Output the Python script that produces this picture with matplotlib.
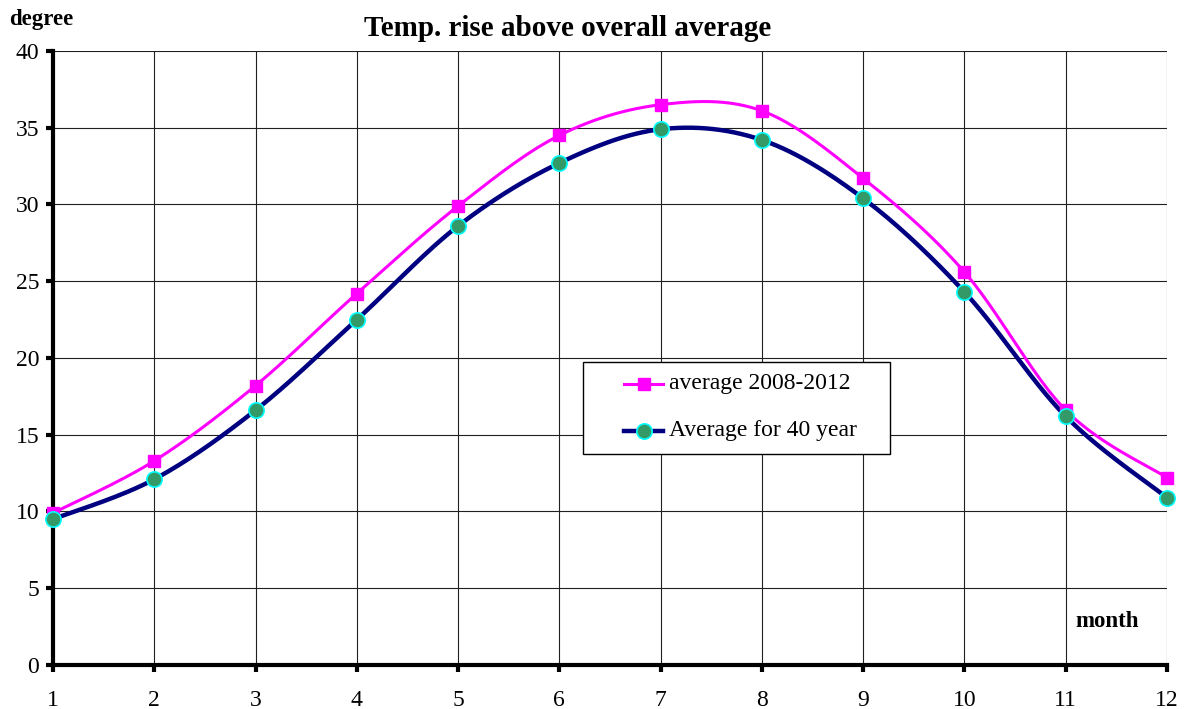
import numpy as np
import matplotlib
matplotlib.use("Agg")
import matplotlib.pyplot as plt
from matplotlib.patches import Rectangle

months = [1, 2, 3, 4, 5, 6, 7, 8, 9, 10, 11, 12]
avg_2008_2012 = [9.9, 13.3, 18.2, 24.2, 29.9, 34.5, 36.5, 36.1, 31.7, 25.6, 16.6, 12.2]
avg_40_year = [9.5, 12.1, 16.6, 22.5, 28.6, 32.7, 34.9, 34.2, 30.4, 24.3, 16.2, 10.9]
yticks = [0, 5, 10, 15, 20, 25, 30, 35, 40]
series_names = ['average 2008-2012', 'Average for 40 year']


def smooth(x, y, steps=30):
    # cubic bezier through each point, control points from neighbouring slopes
    x = np.asarray(x, float)
    y = np.asarray(y, float)
    px = np.concatenate([[x[0]], x, [x[-1]]])
    py = np.concatenate([[y[0]], y, [y[-1]]])
    xs, ys = [], []
    t = np.linspace(0, 1, steps)
    for i in range(1, len(px) - 2):
        p0 = np.array([px[i], py[i]])
        p3 = np.array([px[i + 1], py[i + 1]])
        c1 = p0 + (np.array([px[i + 1], py[i + 1]]) - np.array([px[i - 1], py[i - 1]])) / 6
        c2 = p3 - (np.array([px[i + 2], py[i + 2]]) - np.array([px[i], py[i]])) / 6
        b = ((1 - t) ** 3)[:, None] * p0 + (3 * (1 - t) ** 2 * t)[:, None] * c1 \
            + (3 * (1 - t) * t ** 2)[:, None] * c2 + (t ** 3)[:, None] * p3
        xs.extend(b[:, 0])
        ys.extend(b[:, 1])
    return xs, ys


plt.rcParams['font.family'] = ['Liberation Serif', 'DejaVu Serif']

fig = plt.figure(figsize=(11.84, 7.09), dpi=100)
ax = fig.add_axes([0.0448, 0.0621, 0.9408, 0.866])

ax.set_xlim(1, 12)
ax.set_ylim(0, 40)
ax.set_xticks(months)
ax.set_yticks(yticks)
ax.grid(True, color='#202020', linewidth=0.8)
ax.set_axisbelow(True)

pink = '#ff00ff'
navy = '#000080'
pink_style = dict(color=pink, linewidth=2.2)
pink_marker = dict(marker='s', color=pink, markersize=9)
navy_style = dict(color=navy, linewidth=3.2)
navy_marker = dict(marker='o', markerfacecolor='#339966', markeredgecolor='#00ffff',
                   markeredgewidth=1.2, markersize=11)

sx, sy = smooth(months, avg_2008_2012)
ax.plot(sx, sy, zorder=3, clip_on=False, **pink_style)
ax.plot(months, avg_2008_2012, linestyle='none', zorder=4, clip_on=False, **pink_marker)

sx, sy = smooth(months, avg_40_year)
ax.plot(sx, sy, zorder=3, clip_on=False, **navy_style)
ax.plot(months, avg_40_year, linestyle='none', zorder=4, clip_on=False, **navy_marker)

# hand-placed legend box (axes fractions)
tr = ax.transAxes
ax.add_patch(Rectangle((0.4758, 0.3436), 0.2755, 0.1499, transform=tr, facecolor='white',
                       edgecolor='black', linewidth=1.0, zorder=5))
for row_y, style, marker, name in [(0.4577, pink_style, pink_marker, series_names[0]),
                                   (0.3811, navy_style, navy_marker, series_names[1])]:
    ax.plot([0.5126, 0.5476], [row_y, row_y], transform=tr, zorder=6, **style)
    ax.plot([0.5301], [row_y], transform=tr, linestyle='none', zorder=7, **marker)
    ax.text(0.5530, row_y, name, transform=tr, ha='left', va='center', fontsize=17, zorder=7)

for side in ['top', 'right']:
    ax.spines[side].set_visible(False)
ax.spines['left'].set_linewidth(3)
ax.spines['bottom'].set_linewidth(3)
ax.tick_params(axis='both', direction='out', length=5, width=3, labelsize=17)
ax.tick_params(axis='x', pad=13)
ax.tick_params(axis='y', pad=5)

fig.text(0.479, 0.96, 'Temp. rise above overall average', ha='center', va='center',
         fontsize=21, fontweight='bold')
fig.text(0.008, 0.972, 'degree', ha='left', va='center', fontsize=16.5, fontweight='bold')
ax.text(11.41, 2.8, 'month', ha='center', va='center', fontsize=16.5, fontweight='bold')

fig.savefig('out.png', dpi=100)
